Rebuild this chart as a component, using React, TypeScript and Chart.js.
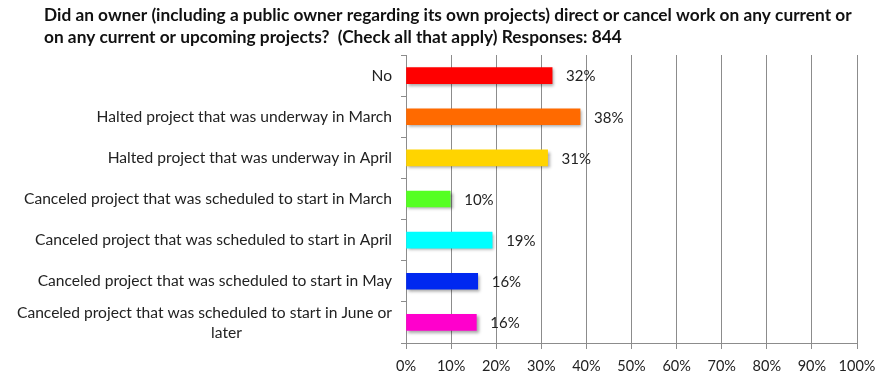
import React, { useEffect, useRef } from "react";
import { Chart, registerables } from "chart.js";

Chart.register(...registerables);

const titleLines = [
  "Did an owner (including a public owner regarding its own projects) direct or cancel work on any current or",
  "on any current or upcoming projects?  (Check all that apply) Responses: 844",
];
const categories: string[][] = [
  ["No"],
  ["Halted project that was underway in March"],
  ["Halted project that was underway in April"],
  ["Canceled project that was scheduled to start in March"],
  ["Canceled project that was scheduled to start in April"],
  ["Canceled project that was scheduled to start in May"],
  ["Canceled project that was scheduled to start in June or", "later"],
];
const values = [32.4, 38.6, 31.4, 9.8, 19.1, 15.9, 15.6];
const valueLabels = ["32%", "38%", "31%", "10%", "19%", "16%", "16%"];
const barColors = ["#ff0000", "#ff6a00", "#ffd400", "#55ff22", "#00ffff", "#0028f0", "#ff00cc"];
const xTicks = [0, 10, 20, 30, 40, 50, 60, 70, 80, 90, 100];

const FONT = "Lato, 'Open Sans', sans-serif";

export default function App() {
  const ref = useRef<HTMLCanvasElement>(null);
  useEffect(() => {
    document.body.style.margin = "0";
    const canvas = ref.current!;
    const plugin = {
      id: "custom",
      beforeDatasetDraw(chart: any) {
        const ctx = chart.ctx;
        ctx.save();
        ctx.shadowColor = "rgba(0,0,0,0.35)";
        ctx.shadowOffsetX = 2;
        ctx.shadowOffsetY = 2;
        ctx.shadowBlur = 3;
      },
      afterDatasetDraw(chart: any) {
        chart.ctx.restore();
      },
      afterDraw(chart: any) {
        const ctx = chart.ctx;
        ctx.save();
        // title
        ctx.fillStyle = "#111";
        ctx.font = `bold 17.3px ${FONT}`;
        ctx.textAlign = "left";
        ctx.textBaseline = "middle";
        ctx.fillText(titleLines[0], 44, 15);
        ctx.fillText(titleLines[1], 44, 37);
        // category labels
        const y = chart.scales.y;
        ctx.font = `15.6px ${FONT}`;
        ctx.fillStyle = "#222";
        categories.forEach((lines, i) => {
          const cy = y.getPixelForValue(i);
          if (lines.length === 1) {
            ctx.textAlign = "right";
            ctx.fillText(lines[0], 392, cy);
          } else {
            ctx.textAlign = "right";
            ctx.fillText(lines[0], 392, cy - 9);
            const w0 = ctx.measureText(lines[0]).width;
            ctx.textAlign = "center";
            ctx.fillText(lines[1], 392 - w0 / 2 + 22, cy + 11);
          }
        });
        // value labels
        const x = chart.scales.x;
        ctx.textAlign = "left";
        ctx.fillStyle = "#222";
        ctx.font = `15px ${FONT}`;
        values.forEach((v, i) => {
          ctx.fillText(valueLabels[i], x.getPixelForValue(v) + 14, y.getPixelForValue(i) + 1);
        });
        ctx.restore();
      },
    };
    const chart = new Chart(canvas, {
      type: "bar",
      data: {
        labels: categories.map((c) => c.join(" ")),
        datasets: [
          {
            data: values,
            backgroundColor: barColors,
            borderWidth: 0,
            barThickness: 16,
          },
        ],
      },
      options: {
        indexAxis: "y",
        animation: false,
        responsive: false,
        layout: { padding: { top: 55, right: 29, left: 0, bottom: 0 } },
        plugins: { legend: { display: false }, tooltip: { enabled: false } },
        scales: {
          x: {
            min: 0,
            max: 100,
            afterBuildTicks(scale: any) {
              scale.ticks = xTicks.map((v) => ({ value: v }));
            },
            afterFit(scale: any) {
              scale.height = 38;
            },
            grid: { color: "#8c8c8c", lineWidth: 1, tickLength: 6 },
            border: { color: "#8c8c8c" },
            ticks: {
              color: "#222",
              font: { family: FONT, size: 14.5 },
              padding: 9,
              maxRotation: 0,
              callback: (v: any) => v + "%",
            },
          },
          y: {
            afterFit(scale: any) {
              scale.width = 406;
            },
            grid: { drawOnChartArea: false, color: "#8c8c8c", tickLength: 5, offset: true },
            border: { color: "#8c8c8c" },
            ticks: { display: false },
          },
        },
      },
      plugins: [plugin],
    });
    return () => chart.destroy();
  }, []);
  return <canvas ref={ref} width={886} height={381} style={{ display: "block" }} />;
}
